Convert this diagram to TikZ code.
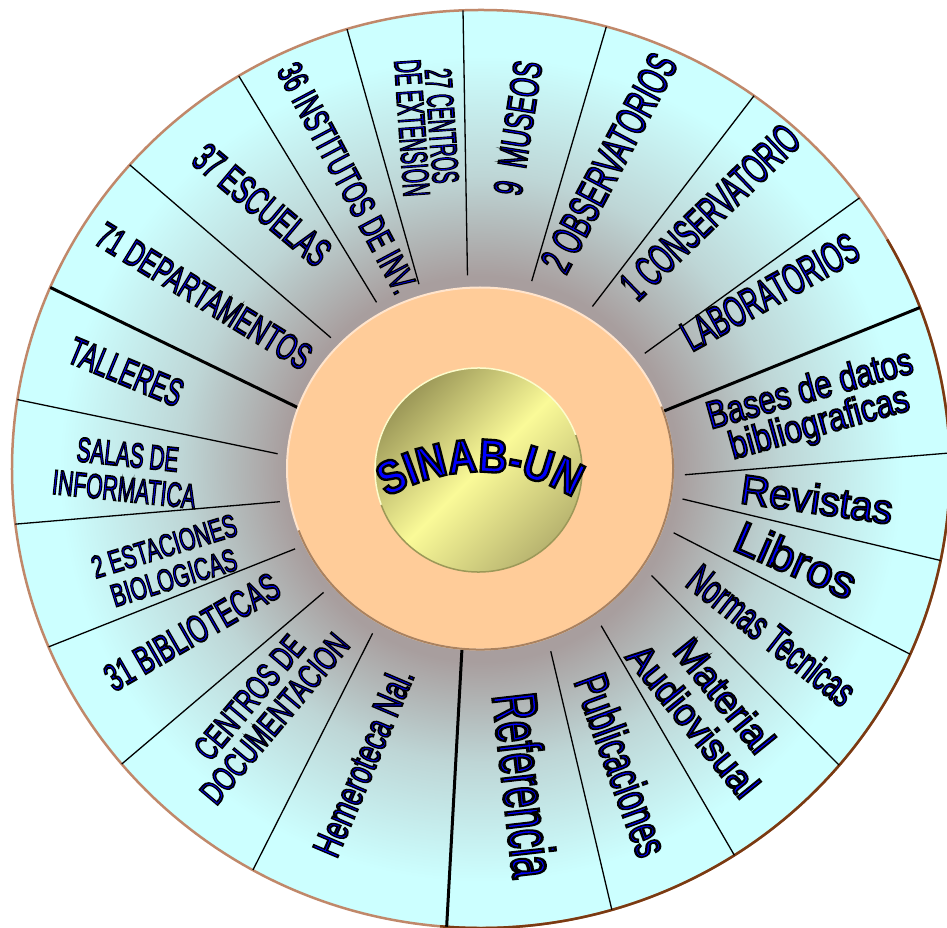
\documentclass[tikz,border=0pt]{standalone}
\usepackage{fontspec}
\usepackage{graphicx}
\usetikzlibrary{decorations.text}
\setmainfont{Liberation Sans}
\newfontfamily\capsfont[FakeBold=5]{Liberation Sans}
\newfontfamily\lowfont[FakeBold=5]{Liberation Sans}
\newfontfamily\sinabfont[FakeBold=5, FakeStretch=0.85]{Liberation Sans Bold}
\definecolor{rimbrown}{RGB}{192,136,106}
\definecolor{rimdark}{RGB}{122,58,18}
\definecolor{wgray}{RGB}{168,158,158}
\definecolor{wmid}{RGB}{190,214,214}
\definecolor{wcyan}{RGB}{204,255,255}
\definecolor{peach}{RGB}{255,204,153}
\definecolor{peachlight}{RGB}{255,228,204}
\definecolor{peachdark}{RGB}{170,130,95}
\definecolor{balldark}{RGB}{156,152,88}
\definecolor{ballshade}{RGB}{184,180,112}
\definecolor{ballyellow}{RGB}{250,250,152}
\pgfdeclareradialshading{wheel}{\pgfpoint{0bp}{0bp}}{color(0bp)=(wgray); color(10.5bp)=(wgray); color(16bp)=(wmid); color(22.5bp)=(wcyan); color(50bp)=(wcyan)}
\newcommand\ink{\color{blue}\special{pdf:literal direct 0 0 0 RG}}
\newcommand\fitline[3]{\resizebox{#1pt}{#2pt}{\ink #3}}
\newcommand\sinabink{\sinabfont\fontsize{47}{47}\selectfont\ink}
\tikzset{
    x=1pt, y=1pt,
    spoke/.style={line width=1.3pt},
    heavy/.style={line width=3pt},
    caps/.style={inner sep=0pt, align=center, font=\capsfont\fontsize{34}{#1}\selectfont},
    caps/.default=30,
    mixed/.style={inner sep=0pt, align=center, font=\lowfont\fontsize{40}{#1}\selectfont},
    mixed/.default=34,
}
\begin{document}
\begin{tikzpicture}
\useasboundingbox (-481,-459) rectangle (466,469);
\shade[shading=wheel] (0,0) ellipse [x radius=469, y radius=459];
\draw[rimbrown, line width=2.5pt] (0,0) ellipse [x radius=469, y radius=459];
\draw[rimdark, line width=2.5pt] (-95:469 and 459) arc [start angle=-95, end angle=30, x radius=469, y radius=459];
\foreach \a/\b in {93.8/92.2, 107.7/106.6, 120.8/121.1, 137.4/138.5, 175.5/171.3, 189.7/186.9, 204.3/202.8, 219.5/220, 237.9/240.9, 290/286.2, 306.1/302.7, 326.7/319.8, 340.8/336.2, 351.1/348.5, 358.3/362, 36.6/36.2, 56.9/54.4, 75.6/74.5}
    \draw[spoke] (\a:204 and 194) -- (\b:469 and 459);
\foreach \a/\b in {160.5/156.7, 264.3/265.8, 18.6/20.6}
    \draw[heavy] (\a:190 and 178) -- (\b:469 and 459);
\fill[peach] (-1,0.5) ellipse [x radius=193, y radius=181];
\draw[peachlight, line width=2pt] (-1,0.5) ellipse [x radius=193, y radius=181];
\draw[peachdark, line width=2pt] ([shift={(-1,0.5)}]200:193 and 181) arc [start angle=200, end angle=380, x radius=193, y radius=181];
\shade[top color=balldark, bottom color=ballshade, middle color=ballyellow, shading angle=45] (-2.5,-1) ellipse [x radius=103.5, y radius=102];
\draw[ballyellow!50!white, line width=1.5pt] ([shift={(-2.5,-1)}]20:103.5 and 102) arc [start angle=20, end angle=200, x radius=103.5, y radius=102];
\draw[balldark, line width=1.5pt] ([shift={(-2.5,-1)}]200:103.5 and 102) arc [start angle=200, end angle=380, x radius=103.5, y radius=102];
\path[decorate, decoration={text along path, text align=center, text={|\sinabink|SINAB-UN}}] (-159.05,-94.25) arc [start angle=150, end angle=30, radius=182.5];
\node[caps, rotate=-86] (ext) at (-54,342) {\fitline{115}{26}{27 CENTROS}\\\fitline{137}{26}{DE EXTENSION}};
\node[caps, rotate=-62] (inst) at (-134,291) {\fitline{255}{25}{36 INSTITUTOS DE INV.}};
\node[caps, rotate=-40] (esc) at (-219,264) {\fitline{165}{28}{37 ESCUELAS}};
\node[caps, rotate=-31.5] (dep) at (-277,173) {\fitline{245}{26}{71 DEPARTAMENTOS}};
\node[caps, rotate=-22.6] (tal) at (-355,97) {\fitline{120}{27}{TALLERES}};
\node[caps=35, rotate=-6] (sal) at (-355,-3) {\fitline{102}{24}{SALAS DE}\\\fitline{144}{24}{INFORMATICA}};
\node[caps=33, rotate=17] (est) at (-312,-93) {\fitline{150}{22}{2 ESTACIONES}\\\fitline{130}{22}{BIOLOGICAS}};
\node[caps, rotate=30] (bib) at (-289,-163) {\fitline{195}{27}{31 BIBLIOTECAS}};
\node[caps=33, rotate=50] (doc) at (-219,-239) {\fitline{150}{24}{CENTROS DE}\\\fitline{210}{24}{DOCUMENTACION}};
\node[mixed, rotate=67] (hem) at (-118,-293) {\fitline{200}{28}{Hemeroteca Nal.}};
\node[mixed, rotate=-83.5] (ref) at (44,-316) {\fitline{185}{45}{Referencia}};
\node[mixed, rotate=-70] (pub) at (141,-296) {\fitline{190}{34}{Publicaciones}};
\node[mixed=40, rotate=-51] (av) at (228,-239) {\fitline{135}{28}{Material}\\\fitline{185}{28}{Audiovisual}};
\node[caps, rotate=-38] (nor) at (291,-166) {\fitline{200}{30}{Normas Tecnicas}};
\node[mixed, rotate=-23.6] (lib) at (315,-91) {\fitline{128}{33}{Libros}};
\node[mixed, rotate=-8] (rev) at (336,-30) {\fitline{153}{30}{Revistas}};
\node[mixed=35, rotate=15.5] (bd) at (334,61) {\fitline{212}{28}{Bases de datos}\\\fitline{185}{28}{bibliograficas}};
\node[caps, rotate=29] (lab) at (289,177) {\fitline{195}{30}{LABORATORIOS}};
\node[caps, rotate=44] (con) at (229,257) {\fitline{230}{30}{1 CONSERVATORIO}};
\node[caps, rotate=62] (obs) at (128,306) {\fitline{240}{30}{2 OBSERVATORIOS}};
\node[caps, rotate=81] (mus) at (37,341) {\fitline{135}{28}{9\ \ MUSEOS}};
\end{tikzpicture}
\end{document}
